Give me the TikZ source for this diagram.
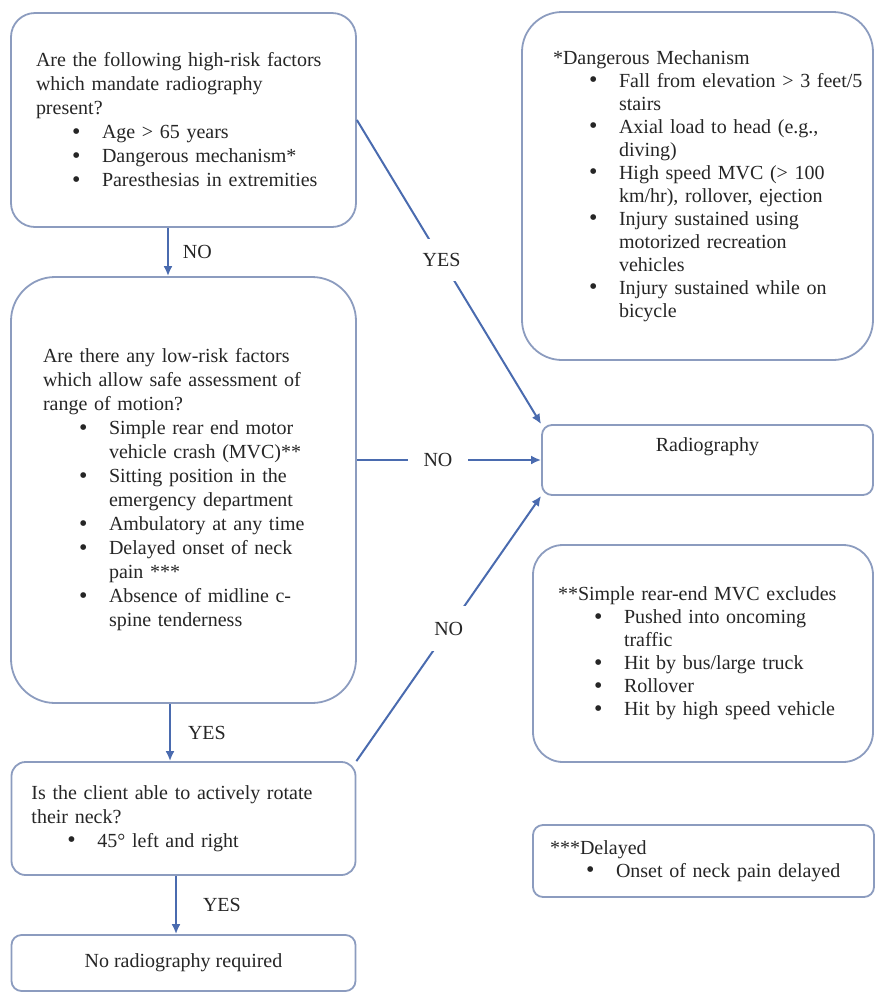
\documentclass[tikz,border=0pt]{standalone}
\usepackage{fontspec}
\setmainfont{Liberation Serif}
\usetikzlibrary{arrows.meta}
\definecolor{flowline}{HTML}{4A6BAF}
\definecolor{boxline}{HTML}{8C9CBF}
\definecolor{txt}{HTML}{262626}
\newcommand{\itm}[1]{\hspace*{18pt}\makebox[15pt][l]{\raisebox{-0.3pt}{\fontsize{12}{12}\selectfont\textbullet}}\mbox{#1}}
\newcommand{\itc}[1]{\hspace*{33pt}\mbox{#1}}

\begin{document}
\begin{tikzpicture}[x=0.5pt,y=-0.5pt,
    box/.style={draw=boxline,line width=0.9pt,fill=white,text=txt,align=left,inner sep=0pt,font=\fontsize{10}{12}\selectfont},
    flow/.style={draw=flowline,line width=1pt,-{Latex[length=5pt,width=4.5pt]}},
    tag/.style={text=txt,font=\fontsize{10}{12}\selectfont,inner sep=2pt}]
    \useasboundingbox (0,0) rectangle (875,993);
    \node[box,rounded corners=12pt,minimum width=172.5pt,minimum height=107pt,text width=147.5pt] (high) at (183.5,120)
        {Are the following high-risk factors\\ which mandate radiography\\ present?\\
        \itm{Age > 65 years}\\ \itm{Dangerous mechanism*}\\ \itm{Paresthesias in extremities}};
    \node[box,rounded corners=22pt,minimum width=172.5pt,minimum height=213pt,text width=140.5pt] (low) at (183.5,490)
        {Are there any low-risk factors\\ which allow safe assessment of\\ range of motion?\\
        \itm{Simple rear end motor}\\ \itc{vehicle crash (MVC)**}\\
        \itm{Sitting position in the}\\ \itc{emergency department}\\
        \itm{Ambulatory at any time}\\
        \itm{Delayed onset of neck}\\ \itc{pain ***}\\
        \itm{Absence of midline c-}\\ \itc{spine tenderness}};
    \node[box,rounded corners=7pt,minimum width=172pt,minimum height=56.5pt,text width=152pt] (rotate) at (183.5,818.5)
        {Is the client able to actively rotate\\ their neck?\\ \itm{45° left and right}};
    \node[box,rounded corners=5pt,minimum width=172pt,minimum height=28pt,align=center] (noxray) at (183.5,963)
        {No radiography required};
    \node[box,rounded corners=20pt,minimum width=175.5pt,minimum height=174pt,text width=144.5pt,font=\fontsize{10}{11.5}\selectfont] (danger) at (697.5,186)
        {*Dangerous Mechanism\\
        \itm{Fall from elevation > 3 feet/5}\\ \itc{stairs}\\
        \itm{Axial load to head (e.g.,}\\ \itc{diving)}\\
        \itm{High speed MVC (> 100}\\ \itc{km/hr), rollover, ejection}\\
        \itm{Injury sustained using}\\ \itc{motorized recreation}\\ \itc{vehicles}\\
        \itm{Injury sustained while on}\\ \itc{bicycle}};
    \node[box,rounded corners=5pt,minimum width=165.5pt,minimum height=35pt,align=center] (xray) at (707.5,460)
        {Radiography\\ \strut};
    \node[box,rounded corners=15pt,minimum width=170pt,minimum height=108.5pt,text width=145pt,font=\fontsize{10}{11.5}\selectfont] (rearend) at (703,653.5)
        {**Simple rear-end MVC excludes\\
        \itm{Pushed into oncoming}\\ \itc{traffic}\\
        \itm{Hit by bus/large truck}\\ \itm{Rollover}\\ \itm{Hit by high speed vehicle}};
    \node[box,rounded corners=5pt,minimum width=170.5pt,minimum height=36pt,text width=153.5pt,font=\fontsize{10}{11.5}\selectfont] (delay) at (703.5,861)
        {***Delayed\\ \itm{Onset of neck pain delayed}};

    \draw[flow] ([xshift=-7.75pt]high.south) -- node[tag,right,xshift=5pt] {NO} ([xshift=-7.75pt]low.north);
    \draw[flow] ([xshift=-6.75pt]low.south) -- node[tag,right,xshift=6.5pt] {YES} ([xshift=-6.75pt]rotate.north);
    \draw[flow] ([xshift=-3.75pt]rotate.south) -- node[tag,right,xshift=11pt] {YES} ([xshift=-3.75pt]noxray.north);
    \draw[flow] (high.east) -- node[tag,fill=white,pos=0.46,inner xsep=4pt,inner ysep=7pt] {YES} (xray.north west);
    \draw[flow] (xray.west -| low.east) -- node[tag,fill=white,pos=0.44,inner xsep=8pt] {NO} (xray.west);
    \draw[flow] (rotate.north east) -- node[tag,fill=white,pos=0.5,inner xsep=4pt,inner ysep=8pt] {NO} (xray.south west);
\end{tikzpicture}
\end{document}
